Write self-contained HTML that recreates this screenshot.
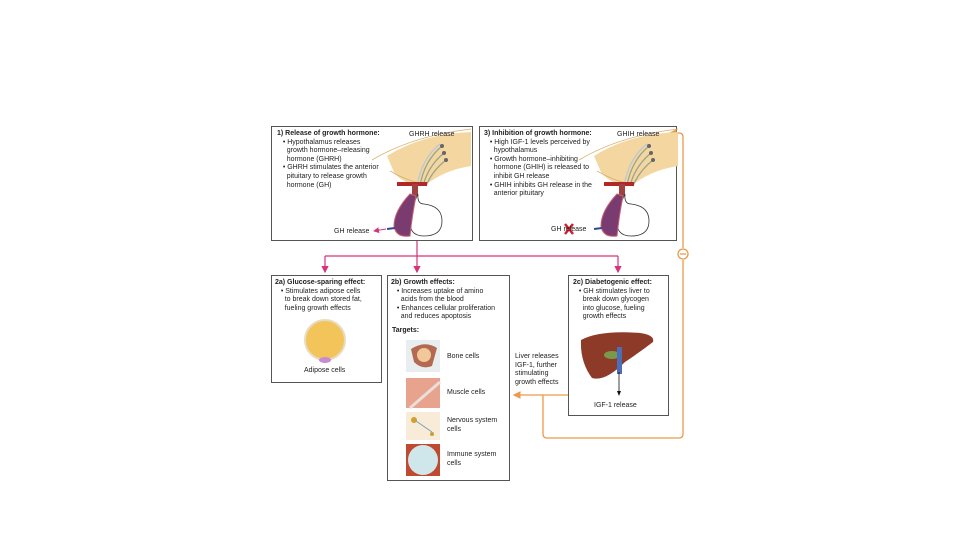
<!DOCTYPE html>
<html><head><meta charset="utf-8"><style>
body{margin:0;width:960px;height:540px;background:#fff;position:relative;overflow:hidden;font-family:"Liberation Sans",sans-serif;color:#222}
.box{position:absolute;border:1px solid #555;background:#fff;box-sizing:border-box}
.t{position:absolute;font-size:7px;line-height:8.6px;white-space:nowrap}
b{font-weight:bold}
</style></head><body>
<div class="box" style="left:271px;top:126px;width:202px;height:115px"></div>
<div class="box" style="left:479px;top:126px;width:198px;height:115px"></div>
<div class="box" style="left:271px;top:275px;width:111px;height:108px"></div>
<div class="box" style="left:387px;top:275px;width:123px;height:206px"></div>
<div class="box" style="left:568px;top:275px;width:101px;height:141px"></div>

<svg width="960" height="540" style="position:absolute;left:0;top:0">
<defs>
<marker id="pa" markerWidth="6" markerHeight="6" refX="5" refY="3" orient="auto"><path d="M0,0 L6,3 L0,6z" fill="#d6337a"/></marker>
<marker id="oa" markerWidth="6" markerHeight="6" refX="5" refY="3" orient="auto"><path d="M0,0 L6,3 L0,6z" fill="#ea9a4a"/></marker>
<g id="pit">
<path d="M115,30 Q150,8 199,6 L199,40 Q172,44 152,60 Q130,58 122,46z" fill="#f3d6a0"/>
<path d="M100,34 Q140,10 199,3" stroke="#d9b070" stroke-width="0.8" fill="none"/>
<path d="M118,45 Q135,55 152,58" stroke="#d9b070" stroke-width="0.8" fill="none"/>
<g stroke="#9aa48a" stroke-width="1.3" fill="none"><path d="M170,20 Q152,35 148,60"/><path d="M172,27 Q156,40 151,60"/><path d="M174,34 Q160,45 154,60"/><path d="M168,18 Q150,32 145,60" stroke="#b8c8d8"/></g>
<circle cx="170" cy="20" r="2" fill="#666"/><circle cx="172" cy="27" r="2" fill="#666"/><circle cx="174" cy="34" r="2" fill="#666"/>
<rect x="125" y="56" width="30" height="4" fill="#b02828"/>
<rect x="140" y="58" width="6" height="12" fill="#a04040"/>
<path d="M146,68 Q145,78 152,78 Q170,80 170,95 Q170,110 152,110 Q136,110 138,92 Q140,80 146,68z" fill="#fff" stroke="#333" stroke-width="0.8"/>
<path d="M138,68 Q122,85 122,100 Q124,112 138,110 Q140,90 144,70z" fill="#7a3c70" stroke="#c86070"/>
</g>
</defs>
<g stroke="#d6337a" stroke-width="1.2" fill="none">
<line x1="417" y1="241" x2="417" y2="256"/>
<line x1="325" y1="256" x2="618" y2="256"/>
<line x1="325" y1="256" x2="325" y2="272" marker-end="url(#pa)"/>
<line x1="417" y1="256" x2="417" y2="272" marker-end="url(#pa)"/>
<line x1="618" y1="256" x2="618" y2="272" marker-end="url(#pa)"/>
</g>
<g stroke="#ea9a4a" stroke-width="1.3" fill="none">
<path d="M683,260 L683,434 Q683,438 679,438 L547,438 Q543,438 543,434 L543,395"/>
<line x1="568" y1="395" x2="514" y2="395" marker-end="url(#oa)"/>
<path d="M683,248 L683,137 Q683,133 679,133 L670,133" marker-end="url(#oa)"/>
<circle cx="683" cy="254" r="5" fill="#fff"/>
<line x1="680" y1="254" x2="686" y2="254"/>
</g>
<use href="#pit" x="272" y="126"/>
<use href="#pit" x="479" y="126"/>
<line x1="387" y1="229" x2="395" y2="228" stroke="#2c4c8c" stroke-width="2"/>
<line x1="386" y1="229" x2="374" y2="231" stroke="#d6337a" stroke-width="1" marker-end="url(#pa)"/>
<line x1="594" y1="229" x2="602" y2="228" stroke="#2c4c8c" stroke-width="2"/>
<path d="M565,224 L573,234 M573,224 L565,234" stroke="#d02030" stroke-width="2.5"/>
<!-- adipose -->
<circle cx="325" cy="340" r="20" fill="#f2c45a" stroke="#e8dcc0" stroke-width="2"/>
<ellipse cx="325" cy="360" rx="6" ry="3" fill="#c88ad0"/>
<!-- targets -->
<rect x="406" y="340" width="34" height="32" fill="#e8eef0"/><path d="M411,349 Q425,340 437,348 L432,366 Q422,370 414,362z" fill="#b46a52"/><circle cx="424" cy="355" r="7" fill="#f0c89a"/>
<rect x="406" y="378" width="34" height="30" fill="#e7a38e"/><line x1="410" y1="408" x2="440" y2="382" stroke="#e8e0d8" stroke-width="3"/>
<rect x="406" y="412" width="34" height="28" fill="#f8ecd8"/><circle cx="414" cy="420" r="3" fill="#d0a030"/><path d="M416,421 L432,432" stroke="#7aa0b0"/><circle cx="432" cy="434" r="2" fill="#c0a040"/>
<rect x="406" y="444" width="34" height="32" fill="#c04a30"/><circle cx="423" cy="460" r="15" fill="#cfe6ea"/>
<!-- liver -->
<path d="M581,340 Q600,330 640,333 Q655,335 653,342 Q640,352 625,362 Q605,382 592,378 Q580,362 581,340z" fill="#8e3a28"/>
<ellipse cx="612" cy="355" rx="8" ry="4" fill="#7a9a4a"/>
<rect x="617" y="347" width="5" height="27" fill="#4a6eb8"/>
<line x1="619" y1="372" x2="619" y2="393" stroke="#111" stroke-width="0.8"/><path d="M617,391 L619,396 L621,391z" fill="#111"/>
</svg>

<div class="t" style="left:277px;top:130px"><b>1) Release of growth hormone:</b><br>&nbsp;&nbsp;&nbsp;• Hypothalamus releases<br>&nbsp;&nbsp;&nbsp;&nbsp;&nbsp;growth hormone–releasing<br>&nbsp;&nbsp;&nbsp;&nbsp;&nbsp;hormone (GHRH)<br>&nbsp;&nbsp;&nbsp;• GHRH stimulates the anterior<br>&nbsp;&nbsp;&nbsp;&nbsp;&nbsp;pituitary to release growth<br>&nbsp;&nbsp;&nbsp;&nbsp;&nbsp;hormone (GH)</div>
<div class="t" style="left:409px;top:131px">GHRH release</div>
<div class="t" style="left:334px;top:228px">GH release</div>
<div class="t" style="left:484px;top:130px"><b>3) Inhibition of growth hormone:</b><br>&nbsp;&nbsp;&nbsp;• High IGF-1 levels perceived by<br>&nbsp;&nbsp;&nbsp;&nbsp;&nbsp;hypothalamus<br>&nbsp;&nbsp;&nbsp;• Growth hormone–inhibiting<br>&nbsp;&nbsp;&nbsp;&nbsp;&nbsp;hormone (GHIH) is released to<br>&nbsp;&nbsp;&nbsp;&nbsp;&nbsp;inhibit GH release<br>&nbsp;&nbsp;&nbsp;• GHIH inhibits GH release in the<br>&nbsp;&nbsp;&nbsp;&nbsp;&nbsp;anterior pituitary</div>
<div class="t" style="left:617px;top:131px">GHIH release</div>
<div class="t" style="left:551px;top:226px">GH release</div>
<div class="t" style="left:275px;top:279px"><b>2a) Glucose-sparing effect:</b><br>&nbsp;&nbsp;&nbsp;• Stimulates adipose cells<br>&nbsp;&nbsp;&nbsp;&nbsp;&nbsp;to break down stored fat,<br>&nbsp;&nbsp;&nbsp;&nbsp;&nbsp;fueling growth effects</div>
<div class="t" style="left:304px;top:367px">Adipose cells</div>
<div class="t" style="left:391px;top:279px"><b>2b) Growth effects:</b><br>&nbsp;&nbsp;&nbsp;• Increases uptake of amino<br>&nbsp;&nbsp;&nbsp;&nbsp;&nbsp;acids from the blood<br>&nbsp;&nbsp;&nbsp;• Enhances cellular proliferation<br>&nbsp;&nbsp;&nbsp;&nbsp;&nbsp;and reduces apoptosis</div>
<div class="t" style="left:392px;top:327px"><b>Targets:</b></div>
<div class="t" style="left:447px;top:353px">Bone cells</div>
<div class="t" style="left:447px;top:389px">Muscle cells</div>
<div class="t" style="left:447px;top:417px">Nervous system<br>cells</div>
<div class="t" style="left:447px;top:451px">Immune system<br>cells</div>
<div class="t" style="left:515px;top:353px">Liver releases<br>IGF-1, further<br>stimulating<br>growth effects</div>
<div class="t" style="left:573px;top:279px"><b>2c) Diabetogenic effect:</b><br>&nbsp;&nbsp;&nbsp;• GH stimulates liver to<br>&nbsp;&nbsp;&nbsp;&nbsp;&nbsp;break down glycogen<br>&nbsp;&nbsp;&nbsp;&nbsp;&nbsp;into glucose, fueling<br>&nbsp;&nbsp;&nbsp;&nbsp;&nbsp;growth effects</div>
<div class="t" style="left:594px;top:402px">IGF-1 release</div>
</body></html>
